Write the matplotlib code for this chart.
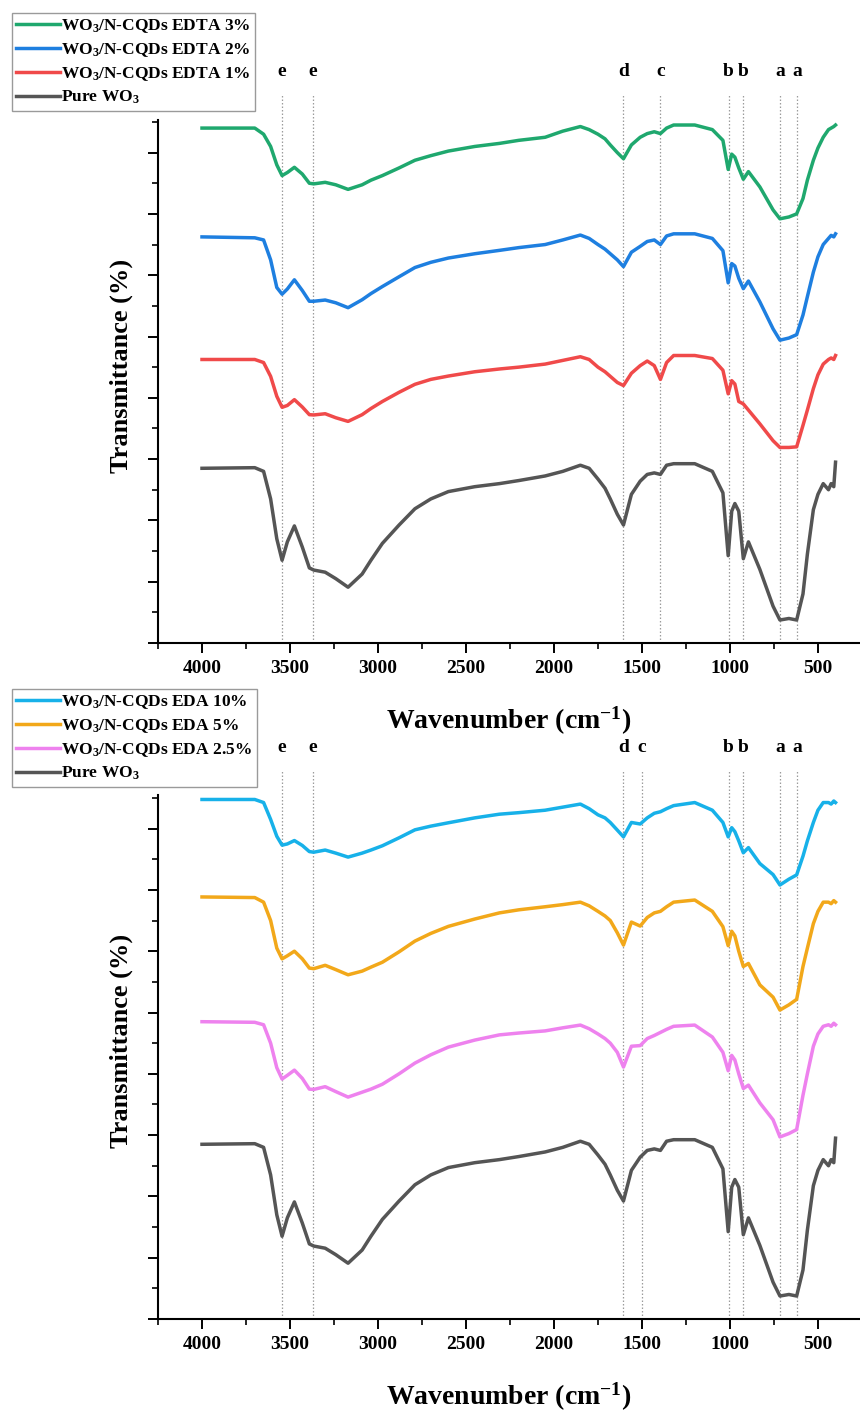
import matplotlib
matplotlib.use("Agg")
import matplotlib.pyplot as plt
from matplotlib.ticker import MultipleLocator, NullFormatter
from matplotlib.lines import Line2D

plt.rcParams['font.family'] = ['Liberation Serif', 'DejaVu Serif']
plt.rcParams['font.weight'] = 'bold'
plt.rcParams['mathtext.fontset'] = 'custom'
plt.rcParams['mathtext.rm'] = 'Liberation Serif:bold'
plt.rcParams['mathtext.bf'] = 'Liberation Serif:bold'
plt.rcParams['mathtext.it'] = 'Liberation Serif:bold'

# wavenumber grid (cm-1) shared by all spectra
wn = [4000, 3700, 3650, 3610, 3575, 3545, 3515, 3475, 3430, 3390,
      3365, 3300, 3240, 3170, 3090, 3040, 2975, 2880, 2790, 2700,
      2600, 2450, 2310, 2200, 2050, 1950, 1850, 1800, 1750, 1710,
      1680, 1640, 1605, 1560, 1510, 1470, 1430, 1395, 1360, 1320,
      1200, 1100, 1040, 1010, 990, 972, 950, 924, 895, 830,
      755, 716, 665, 621, 585, 560, 526, 500, 470, 440,
      425, 410, 400]

# transmittance, stacked (arbitrary units, one unit = one minor tick)
pure_wo3 = [5.7, 5.72, 5.6, 4.7, 3.4, 2.7, 3.3, 3.82, 3.13, 2.45,
            2.38, 2.31, 2.1, 1.82, 2.25, 2.7, 3.25, 3.85, 4.38, 4.7,
            4.94, 5.1, 5.2, 5.3, 5.45, 5.6, 5.8, 5.7, 5.35, 5.05,
            4.7, 4.2, 3.85, 4.85, 5.28, 5.5, 5.55, 5.5, 5.8, 5.85,
            5.85, 5.6, 4.9, 2.85, 4.3, 4.55, 4.3, 2.75, 3.3, 2.4,
            1.2, 0.75, 0.8, 0.75, 1.6, 2.9, 4.35, 4.85, 5.2, 5.0,
            5.2, 5.1, 5.9]
edta_3 = [16.8, 16.8, 16.6, 16.2, 15.6, 15.25, 15.35, 15.52, 15.3, 15.0,
          14.98, 15.03, 14.95, 14.8, 14.95, 15.1, 15.25, 15.5, 15.75, 15.9,
          16.05, 16.2, 16.3, 16.4, 16.5, 16.7, 16.85, 16.75, 16.6, 16.45,
          16.25, 16.0, 15.8, 16.25, 16.5, 16.62, 16.68, 16.62, 16.8, 16.9,
          16.9, 16.75, 16.4, 15.45, 15.95, 15.85, 15.5, 15.13, 15.38, 14.88,
          14.13, 13.84, 13.9, 14.0, 14.5, 15.1, 15.75, 16.15, 16.5, 16.75,
          16.8, 16.85, 16.9]
edta_2 = [13.25, 13.22, 13.15, 12.5, 11.6, 11.38, 11.55, 11.85, 11.5, 11.15,
          11.15, 11.19, 11.1, 10.94, 11.2, 11.4, 11.63, 11.95, 12.25, 12.42,
          12.56, 12.7, 12.81, 12.9, 13.0, 13.15, 13.31, 13.2, 13.0, 12.85,
          12.7, 12.5, 12.28, 12.75, 12.94, 13.1, 13.15, 13.0, 13.28, 13.35,
          13.35, 13.2, 12.8, 11.75, 12.38, 12.3, 11.9, 11.56, 11.81, 11.13,
          10.25, 9.88, 9.95, 10.06, 10.7, 11.3, 12.1, 12.6, 13.0, 13.2,
          13.3, 13.25, 13.35]
edta_1 = [9.25, 9.25, 9.15, 8.7, 8.05, 7.69, 7.75, 7.94, 7.7, 7.45,
          7.44, 7.48, 7.35, 7.23, 7.45, 7.65, 7.88, 8.18, 8.44, 8.6,
          8.71, 8.85, 8.94, 9.0, 9.1, 9.22, 9.34, 9.25, 9.0, 8.85,
          8.7, 8.5, 8.4, 8.8, 9.05, 9.2, 9.05, 8.6, 9.15, 9.38,
          9.38, 9.28, 8.9, 8.13, 8.56, 8.45, 7.88, 7.8, 7.6, 7.15,
          6.6, 6.38, 6.38, 6.4, 7.1, 7.6, 8.3, 8.75, 9.1, 9.25,
          9.3, 9.25, 9.38]
eda_10 = [16.95, 16.95, 16.85, 16.3, 15.75, 15.46, 15.5, 15.61, 15.45, 15.25,
          15.23, 15.3, 15.2, 15.07, 15.2, 15.3, 15.44, 15.7, 15.96, 16.08,
          16.19, 16.35, 16.47, 16.52, 16.6, 16.7, 16.8, 16.65, 16.45, 16.35,
          16.2, 15.95, 15.73, 16.2, 16.15, 16.35, 16.5, 16.55, 16.65, 16.75,
          16.85, 16.6, 16.2, 15.73, 16.03, 15.9, 15.6, 15.21, 15.38, 14.86,
          14.5, 14.16, 14.35, 14.49, 15.1, 15.6, 16.2, 16.6, 16.85, 16.85,
          16.8, 16.9, 16.85]
eda_5 = [13.77, 13.75, 13.6, 13.0, 12.1, 11.75, 11.85, 12.0, 11.75, 11.45,
         11.43, 11.54, 11.4, 11.23, 11.35, 11.48, 11.64, 11.98, 12.33, 12.58,
         12.81, 13.05, 13.25, 13.35, 13.45, 13.52, 13.6, 13.48, 13.3, 13.15,
         13.0, 12.6, 12.2, 12.95, 12.82, 13.1, 13.25, 13.3, 13.45, 13.6,
         13.67, 13.3, 12.8, 12.18, 12.65, 12.5, 12.0, 11.5, 11.6, 10.9,
         10.5, 10.08, 10.25, 10.43, 11.5, 12.1, 12.9, 13.3, 13.6, 13.6,
         13.55, 13.65, 13.6]
eda_25 = [9.7, 9.68, 9.6, 9.0, 8.2, 7.83, 7.95, 8.12, 7.85, 7.5,
          7.49, 7.58, 7.42, 7.24, 7.4, 7.5, 7.66, 8.0, 8.35, 8.62,
          8.87, 9.1, 9.27, 9.33, 9.4, 9.5, 9.59, 9.47, 9.3, 9.15,
          9.0, 8.7, 8.22, 8.9, 8.92, 9.15, 9.25, 9.35, 9.45, 9.55,
          9.59, 9.2, 8.7, 8.1, 8.6, 8.45, 8.0, 7.52, 7.63, 7.05,
          6.5, 5.94, 6.05, 6.18, 7.3, 8.0, 8.9, 9.3, 9.55, 9.6,
          9.55, 9.65, 9.6]

# band markers
peaks_top = [('e', 3545), ('e', 3370), ('d', 1605), ('c', 1395),
             ('b', 1008), ('b', 923), ('a', 714), ('a', 618)]
peaks_bottom = [('e', 3545), ('e', 3370), ('d', 1605), ('c', 1500),
                ('b', 1008), ('b', 923), ('a', 714), ('a', 618)]

top_series = [(edta_3, '#1fa86e', r'WO$_3$/N-CQDs EDTA 3%'),
              (edta_2, '#1e7fe0', r'WO$_3$/N-CQDs EDTA 2%'),
              (edta_1, '#f04a4a', r'WO$_3$/N-CQDs EDTA 1%'),
              (pure_wo3, '#555555', r'Pure WO$_3$')]
bottom_series = [(eda_10, '#17b1e9', r'WO$_3$/N-CQDs EDA 10%'),
                 (eda_5, '#f2a81a', r'WO$_3$/N-CQDs EDA 5%'),
                 (eda_25, '#ee82ee', r'WO$_3$/N-CQDs EDA 2.5%'),
                 (pure_wo3, '#555555', r'Pure WO$_3$')]

W, H = 860, 1412
fig = plt.figure(figsize=(W / 100, H / 100), dpi=100)


def panel(top_px, bottom_px, series, peaks, legend_top_px):
    ax = fig.add_axes([158 / W, 1 - bottom_px / H, 1 - 158 / W, (bottom_px - top_px) / H])
    unit = 30.65
    ytop = (bottom_px - top_px) / unit
    for y, c, lab in series:
        ax.plot(wn, y, color=c, lw=2.5, solid_joinstyle='round', zorder=3)
    for lab, x in peaks:
        ax.vlines(x, 0, ytop + 25 / unit, colors='#9c9c9c', linestyles=(0, (1.2, 1.6)),
                  lw=0.9, clip_on=False, zorder=1)
        ax.text(x, ytop + 48 / unit, lab, ha='center', va='center', fontsize=14,
                fontweight='bold', clip_on=False)
    ax.set_xlim(4250, 261)
    ax.set_ylim(0, ytop)
    ax.xaxis.set_major_locator(MultipleLocator(500))
    ax.xaxis.set_minor_locator(MultipleLocator(250))
    ax.yaxis.set_major_locator(MultipleLocator(2))
    ax.yaxis.set_minor_locator(MultipleLocator(1))
    ax.yaxis.set_major_formatter(NullFormatter())
    for s in ['top', 'right']:
        ax.spines[s].set_visible(False)
    for s in ['left', 'bottom']:
        ax.spines[s].set_linewidth(1.5)
    ax.tick_params(which='major', length=7, width=1.4, direction='out', labelsize=14, pad=5)
    ax.tick_params(which='minor', length=4.3, width=1.2, direction='out')
    ax.set_xlabel(r'Wavenumber (cm$^{-1}$)', fontsize=20, fontweight='bold', labelpad=20)
    ax.set_ylabel('Transmittance (%)', fontsize=19, fontweight='bold')
    ax.yaxis.set_label_coords(-0.035, 0.53)
    handles = [Line2D([], [], color=c, lw=2.5) for y, c, lab in series]
    labels = [lab for y, c, lab in series]
    fig.legend(handles, labels, loc='upper left',
               bbox_to_anchor=(12 / W, 1 - legend_top_px / H),
               borderaxespad=0, frameon=True, fancybox=False,
               edgecolor='#9a9a9a', framealpha=1, handlelength=2.5,
               handletextpad=0.1, labelspacing=0.35, borderpad=0.25,
               prop={'weight': 'bold', 'size': 12.5})
    return ax


panel(120, 643, top_series, peaks_top, 13)
panel(795, 1319, bottom_series, peaks_bottom, 689)

fig.savefig('out.png', dpi=100)
